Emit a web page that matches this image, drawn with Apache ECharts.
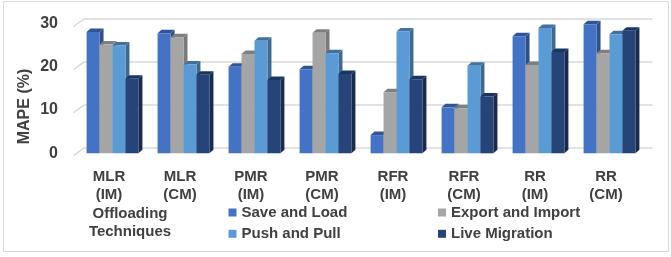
<!DOCTYPE html>
<html lang="en">
<head>
    <meta charset="UTF-8">
    <title>MAPE by offloading technique</title>
    <script src="https://cdn.jsdelivr.net/npm/echarts@6/dist/echarts.min.js"></script>
    <style>
        html, body {margin: 0; padding: 0; background: #fff;}
        #chart {width: 671px; height: 257px;}
    </style>
</head>
<body>
<div id="chart"></div>

<script>
    // 数据
    let categories = ['MLR\n(IM)', 'MLR\n(CM)', 'PMR\n(IM)', 'PMR\n(CM)', 'RFR\n(IM)', 'RFR\n(CM)', 'RR\n(IM)', 'RR\n(CM)']
    let saveLoad = [28.0, 27.7, 20.0, 19.4, 4.2, 10.6, 27.0, 29.8]
    let exportImport = [25.1, 26.8, 22.9, 27.8, 14.1, 10.4, 20.4, 23.1]
    let pushPull = [24.9, 20.5, 26.0, 23.1, 28.1, 20.2, 28.9, 27.5]
    let liveMigration = [17.2, 18.1, 16.9, 18.3, 17.1, 13.1, 23.4, 28.3]
    let yTicks = [0, 10, 20, 30]

    let seriesNames = ['Save and Load', 'Export and Import', 'Push and Pull', 'Live Migration']
    let seriesData = [saveLoad, exportImport, pushPull, liveMigration]
    // front / top / side colours
    let faceColors = [
        ['#4472C4', '#2F5597', '#2E4F8A'],
        ['#A5A5A5', '#7F7F7F', '#7A7A7A'],
        ['#5B9BD5', '#41719C', '#3D6A93'],
        ['#264478', '#1C3462', '#182B4E']
    ]
    let textColor = '#404040'
    let font = 'Liberation Sans, Arial, sans-serif'

    // 3D-looking bar: front face, top face and right side face
    function barRenderer(sIdx) {
        return function (params, api) {
            let cat = api.value(0)
            let top = api.coord([cat, api.value(1)])
            let base = api.coord([cat, 0])
            let w = api.size([1, 0])[0] * 0.1825
            let x0 = top[0] + (sIdx - 2) * w
            let x1 = x0 + w
            let yT = top[1], yB = base[1]
            let dx = 4, dy = 3.5
            let c = faceColors[sIdx]
            return {
                type: 'group',
                children: [
                    {type: 'polygon', shape: {points: [[x1, yT], [x1 + dx, yT - dy], [x1 + dx, yB - dy], [x1, yB]]}, style: {fill: c[2]}},
                    {type: 'polygon', shape: {points: [[x0, yT], [x1, yT], [x1 + dx, yT - dy], [x0 + dx, yT - dy]]}, style: {fill: c[1]}},
                    {type: 'rect', shape: {x: x0, y: yT, width: w, height: yB - yT}, style: {fill: c[0]}}
                ]
            }
        }
    }

    let barSeries = seriesNames.map(function (name, i) {
        return {
            name: name,
            type: 'custom',
            xAxisIndex: 0,
            yAxisIndex: 0,
            z: 3 + i,
            silent: true,
            itemStyle: {color: faceColors[i][0]},
            renderItem: barRenderer(i),
            data: seriesData[i].map(function (v, k) { return [k, v] })
        }
    })

    // little slanted lines where the back gridlines meet the side wall
    let wallSeries = {
        type: 'custom',
        xAxisIndex: 1,
        yAxisIndex: 1,
        silent: true,
        z: 1,
        renderItem: function (params, api) {
            let p = api.coord([0, api.value(1)])
            return {
                type: 'line',
                shape: {x1: p[0] - 11, y1: p[1] + 8, x2: p[0], y2: p[1]},
                style: {stroke: '#D9D9D9', lineWidth: 1.5}
            }
        },
        data: yTicks.map(function (v) { return [0, v] })
    }

    function legendAt(name, left, top) {
        return {
            data: [name],
            left: left,
            top: top,
            padding: 0,
            icon: 'rect',
            itemWidth: 8,
            itemHeight: 8,
            selectedMode: false,
            textStyle: {color: textColor, fontSize: 15, fontWeight: 'bold', fontFamily: font}
        }
    }

    let myChart = echarts.init(document.getElementById('chart'))

    let option = {
        animation: false,
        backgroundColor: '#fff',
        grid: [
            // front plane (bars, labels)
            {left: 77, right: 26, top: 23.3, bottom: 103.7},
            // back wall (gridlines)
            {left: 84.5, right: 18.5, top: 18.5, bottom: 109.3}
        ],
        xAxis: [
            {
                type: 'category',
                gridIndex: 0,
                data: categories,
                axisLine: {show: false},
                axisTick: {show: false},
                axisLabel: {
                    color: textColor,
                    fontSize: 15,
                    fontWeight: 'bold',
                    fontFamily: font,
                    lineHeight: 18,
                    margin: 15,
                    padding: [0, 7, 0, 0]
                }
            },
            {type: 'value', gridIndex: 1, min: 0, max: 1, show: false}
        ],
        yAxis: [
            {
                type: 'value',
                gridIndex: 0,
                min: 0,
                max: 30,
                interval: 10,
                axisLine: {show: false},
                axisTick: {show: false},
                splitLine: {show: false},
                axisLabel: {
                    color: textColor,
                    fontSize: 16,
                    fontWeight: 'bold',
                    fontFamily: font,
                    margin: 19,
                    padding: [5, 0, 0, 0]
                }
            },
            {
                type: 'value',
                gridIndex: 1,
                min: 0,
                max: 30,
                interval: 10,
                axisLine: {show: false},
                axisTick: {show: false},
                axisLabel: {show: false},
                splitLine: {lineStyle: {color: '#D9D9D9', width: 1.5}}
            }
        ],
        legend: [
            legendAt(seriesNames[0], 228.5, 205),
            legendAt(seriesNames[1], 438, 205),
            legendAt(seriesNames[2], 228.5, 226.3),
            legendAt(seriesNames[3], 438, 226.3)
        ],
        graphic: [
            {
                type: 'rect',
                silent: true,
                shape: {x: 3.5, y: 1.5, width: 665, height: 250},
                style: {fill: null, stroke: '#D9D9D9', lineWidth: 1}
            },
            {
                type: 'text',
                x: 25,
                y: 106.5,
                rotation: Math.PI / 2,
                style: {
                    text: 'MAPE (%)',
                    fill: textColor,
                    font: 'bold 16px ' + font,
                    align: 'center',
                    verticalAlign: 'middle'
                }
            },
            {
                type: 'text',
                x: 130,
                y: 223,
                style: {
                    text: 'Offloading\nTechniques',
                    fill: textColor,
                    font: 'bold 15px ' + font,
                    lineHeight: 18,
                    align: 'center',
                    verticalAlign: 'middle'
                }
            }
        ],
        series: [wallSeries].concat(barSeries)
    }

    myChart.setOption(option)
</script>
</body>
</html>
